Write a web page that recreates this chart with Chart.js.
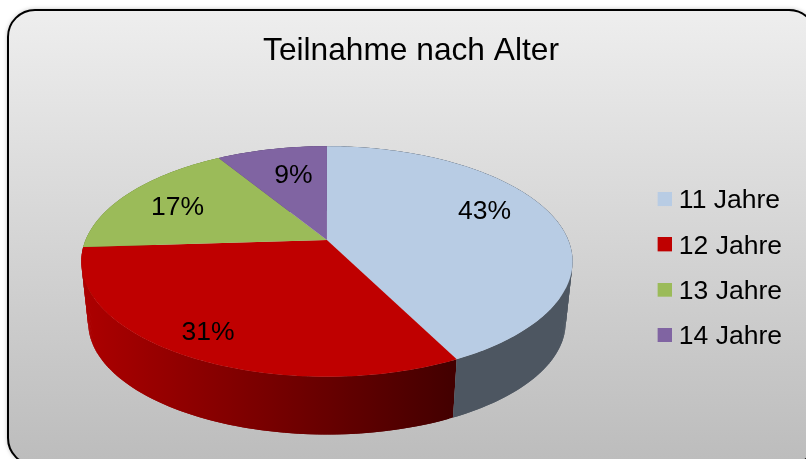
<!DOCTYPE html>
<html>
<head>
<meta charset="utf-8">
<title>Teilnahme nach Alter</title>
<script src="https://cdn.jsdelivr.net/npm/chart.js@4"></script>
<style>
    html, body { margin: 0; background: #fff; overflow: hidden; }
    canvas { display: block; }
</style>
</head>
<body>
<canvas id="ageChart" width="806" height="459"></canvas>
<script>
const categories = ['11 Jahre', '12 Jahre', '13 Jahre', '14 Jahre'];
const shares = [42.6, 31.4, 17.3, 8.7];
const sliceColors = ['#b8cce4', '#bf0000', '#9bbb59', '#8064a2'];
const wallColors = [['#4d5661', '#4d5661'], ['#ab0000', '#430000'], ['#6f8a3c', '#6f8a3c'], ['#5a4672', '#5a4672']];
const labelNudge = [[-2, -11], [-24, 17], [-8, 2], [7, 2]];

const FONT = '"Liberation Sans", Arial, sans-serif';

// perspective of the tilted pie
const tiltK = 0.186, stretchX = 1.49, stretchY = 0.687;
const wallShrink = 0.972, wallDrop = 61;

function project(el, angle, ratio) {
    const u = Math.cos(angle) * ratio, v = Math.sin(angle) * ratio;
    const d = 1 - tiltK * v;
    return {
        x: el.x + el.outerRadius * stretchX * u / d,
        y: el.y + el.outerRadius * stretchY * v / d
    };
}

function wallPoint(el, p) {
    const mid = el.y + el.outerRadius * stretchY * tiltK / (1 - tiltK * tiltK);
    return {
        x: el.x + (p.x - el.x) * wallShrink,
        y: mid + wallDrop + (p.y - mid) * wallShrink
    };
}

function edgePoints(el) {
    const pts = [];
    const steps = Math.max(8, Math.ceil((el.endAngle - el.startAngle) * 60));
    for (let i = 0; i <= steps; i++) {
        const a = el.startAngle + (el.endAngle - el.startAngle) * i / steps;
        pts.push(project(el, a, 1));
    }
    return pts;
}

const pie3d = {
    id: 'pie3d',
    beforeDraw(chart) {
        const ctx = chart.ctx;
        const grad = ctx.createLinearGradient(0, 10, 0, 465);
        grad.addColorStop(0, '#eeeeee');
        grad.addColorStop(1, '#bcbcbc');
        ctx.save();
        ctx.beginPath();
        ctx.roundRect(8, 10, 808, 455, 27);
        ctx.shadowColor = 'rgba(0,0,0,0.35)';
        ctx.shadowBlur = 5;
        ctx.fillStyle = grad;
        ctx.fill();
        ctx.shadowColor = 'transparent';
        ctx.lineWidth = 2;
        ctx.strokeStyle = '#000';
        ctx.stroke();
        ctx.restore();
    },
    afterLayout(chart) {
        chart.titleBlock.left += 17;
        chart.legend.top += 68;
        chart.legend.bottom += 68;
    },
    beforeDatasetsDraw(chart) {
        const ctx = chart.ctx;
        const arcs = chart.getDatasetMeta(0).data;
        ctx.save();

        // side wall, back slices first. one quad per step because the band
        // folds over at the silhouette and a single path would leave a hole
        for (let i = arcs.length - 1; i >= 0; i--) {
            const top = edgePoints(arcs[i]);
            const low = top.map(p => wallPoint(arcs[i], p));
            const xs = low.map(p => p.x);
            const grad = ctx.createLinearGradient(Math.min(...xs), 0, Math.max(...xs), 0);
            grad.addColorStop(0, wallColors[i][0]);
            grad.addColorStop(1, wallColors[i][1]);
            ctx.fillStyle = grad;
            for (let n = 0; n < top.length - 1; n++) {
                const m = Math.min(n + 2, top.length - 1);
                ctx.beginPath();
                ctx.moveTo(top[n].x, top[n].y);
                ctx.lineTo(top[m].x, top[m].y);
                ctx.lineTo(low[m].x, low[m].y);
                ctx.lineTo(low[n].x, low[n].y);
                ctx.closePath();
                ctx.fill();
            }
        }

        // top face
        arcs.forEach((el, i) => {
            ctx.beginPath();
            ctx.moveTo(el.x, el.y);
            edgePoints(el).forEach(p => ctx.lineTo(p.x, p.y));
            ctx.closePath();
            ctx.fillStyle = sliceColors[i];
            ctx.fill();
        });

        // percent labels
        ctx.fillStyle = '#000';
        ctx.font = '26.5px ' + FONT;
        ctx.textAlign = 'center';
        ctx.textBaseline = 'middle';
        arcs.forEach((el, i) => {
            const p = project(el, (el.startAngle + el.endAngle) / 2, 0.7);
            ctx.fillText(Math.round(shares[i]) + '%', p.x + labelNudge[i][0], p.y + labelNudge[i][1]);
        });

        ctx.restore();
        return false;
    }
};

// legend square sits up and to the right of the image centre, close to the text
function legendSwatch(color) {
    const c = document.createElement('canvas');
    c.width = 18;
    c.height = 18;
    const g = c.getContext('2d');
    g.fillStyle = color;
    g.fillRect(4, 0, 14, 14);
    return c;
}

new Chart(document.getElementById('ageChart'), {
    type: 'pie',
    data: {
        labels: categories,
        datasets: [{
            data: shares,
            backgroundColor: sliceColors,
            borderWidth: 0
        }]
    },
    plugins: [pie3d],
    options: {
        responsive: false,
        animation: false,
        layout: { padding: { left: 13, right: 14, top: 0, bottom: 57 } },
        plugins: {
            tooltip: { enabled: false },
            title: {
                display: true,
                text: 'Teilnahme nach Alter',
                color: '#000',
                font: { family: FONT, size: 31.7, weight: 'normal' },
                padding: { top: 32, bottom: 8 }
            },
            legend: {
                position: 'right',
                labels: {
                    color: '#000',
                    font: { family: FONT, size: 26.5 },
                    padding: 18.8,
                    usePointStyle: true,
                    pointStyleWidth: 6,
                    generateLabels(chart) {
                        const items = Chart.overrides.pie.plugins.legend.labels.generateLabels(chart);
                        items.forEach((item, i) => { item.pointStyle = legendSwatch(sliceColors[i]); });
                        return items;
                    }
                }
            }
        }
    }
});
</script>
</body>
</html>
